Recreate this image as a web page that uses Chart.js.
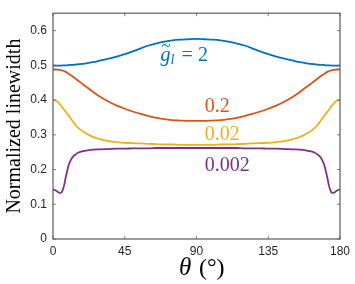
<!DOCTYPE html>
<html>
<head>
<meta charset="utf-8">
<script src="https://cdn.jsdelivr.net/npm/chart.js@4"></script>
<style>body{margin:0;background:#fff}</style>
</head>
<body>
<canvas id="lwChart" width="355" height="284"></canvas>
<script>
// angle theta in degrees
var theta = [0,2,4,5,6,7,8,9,10,12,14,16,18,20,25,30,35,40,45,50,55,60,65,70,75,80,85,90,95,100,105,110,115,120,125,130,135,140,145,150,155,160,162,164,166,168,170,171,172,173,174,175,176,178,180];

// normalized linewidth for each g_l
var lw2 = [0.499,0.499,0.499,0.499,0.500,0.500,0.500,0.500,0.501,0.501,0.502,0.503,0.504,0.505,0.509,0.514,0.519,0.525,0.532,0.540,0.549,0.557,0.563,0.568,0.572,0.574,0.575,0.576,0.575,0.574,0.572,0.568,0.563,0.557,0.549,0.540,0.532,0.525,0.519,0.514,0.509,0.505,0.504,0.503,0.502,0.501,0.501,0.500,0.500,0.500,0.500,0.499,0.499,0.499,0.499];
var lw02 = [0.488,0.488,0.487,0.486,0.485,0.483,0.481,0.478,0.475,0.469,0.462,0.455,0.448,0.441,0.424,0.408,0.395,0.384,0.375,0.367,0.360,0.354,0.349,0.345,0.342,0.341,0.340,0.340,0.340,0.341,0.342,0.345,0.349,0.354,0.360,0.367,0.375,0.384,0.395,0.408,0.424,0.441,0.448,0.455,0.462,0.469,0.475,0.478,0.481,0.483,0.485,0.486,0.487,0.488,0.488];
var lw002 = [0.400,0.398,0.390,0.384,0.378,0.372,0.366,0.360,0.354,0.341,0.329,0.319,0.312,0.306,0.294,0.287,0.282,0.279,0.277,0.276,0.275,0.274,0.273,0.272,0.272,0.271,0.271,0.271,0.271,0.271,0.272,0.272,0.273,0.274,0.275,0.276,0.277,0.279,0.282,0.287,0.294,0.306,0.312,0.319,0.329,0.341,0.354,0.360,0.366,0.372,0.378,0.384,0.390,0.398,0.400];
var lw0002 = [0.143,0.139,0.133,0.132,0.140,0.155,0.178,0.198,0.215,0.234,0.243,0.249,0.252,0.254,0.257,0.258,0.259,0.260,0.260,0.261,0.261,0.261,0.262,0.262,0.262,0.262,0.262,0.262,0.262,0.262,0.262,0.262,0.262,0.261,0.261,0.261,0.260,0.260,0.259,0.258,0.257,0.254,0.252,0.249,0.243,0.234,0.215,0.198,0.178,0.155,0.140,0.132,0.133,0.139,0.143];

var xTicks = [0, 45, 90, 135, 180];
var yTicks = [0, 0.1, 0.2, 0.3, 0.4, 0.5, 0.6];

function pts(ys) {
  return theta.map(function (t, i) { return { x: t, y: ys[i] }; });
}

function series(ys, color) {
  return {
    data: pts(ys),
    borderColor: color,
    borderWidth: 1.8,
    pointRadius: 0,
    fill: false,
    cubicInterpolationMode: "monotone",
  };
}

// box, inward ticks, x title and curve labels
var matlabLook = {
  id: "matlabLook",
  afterDatasetsDraw: function (chart) {
    var ctx = chart.ctx;
    var a = chart.chartArea;
    var xs = chart.scales.x, ys = chart.scales.y;
    ctx.save();
    ctx.strokeStyle = "#5a5a5a";
    ctx.lineWidth = 1.2;
    ctx.strokeRect(a.left, a.top, a.right - a.left, a.bottom - a.top);
    ctx.lineWidth = 0.8;
    ctx.beginPath();
    xTicks.forEach(function (v) {
      var px = xs.getPixelForValue(v);
      ctx.moveTo(px, a.bottom); ctx.lineTo(px, a.bottom - 3);
      ctx.moveTo(px, a.top); ctx.lineTo(px, a.top + 3);
    });
    yTicks.forEach(function (v) {
      var py = ys.getPixelForValue(v);
      ctx.moveTo(a.left, py); ctx.lineTo(a.left + 3, py);
      ctx.moveTo(a.right, py); ctx.lineTo(a.right - 3, py);
    });
    ctx.stroke();

    ctx.textBaseline = "alphabetic";
    ctx.textAlign = "left";

    // x axis title: theta (deg)
    ctx.fillStyle = "#000";
    ctx.font = "italic 25px 'Liberation Serif'";
    ctx.fillText("θ", 179, 275);
    ctx.font = "24px 'Liberation Serif'";
    ctx.fillText("(°)", 199, 275);

    // g~_l = 2
    var gx = xs.getPixelForValue(67.5), gy = ys.getPixelForValue(0.512);
    ctx.fillStyle = "#0072BD";
    ctx.font = "italic 20px 'Liberation Serif'";
    ctx.fillText("g", gx, gy);
    ctx.font = "17px 'Liberation Serif'";
    ctx.fillText("~", gx + 1, gy - 10);
    ctx.font = "italic 14px 'Liberation Serif'";
    ctx.fillText("l", gx + 10, gy + 3);
    ctx.font = "20px 'Liberation Serif'";
    ctx.fillText("= 2", gx + 21, gy);

    ctx.font = "20px 'Liberation Serif'";
    ctx.fillStyle = "#D95319";
    ctx.fillText("0.2", xs.getPixelForValue(95.2), ys.getPixelForValue(0.367));
    ctx.fillStyle = "#EDB120";
    ctx.fillText("0.02", xs.getPixelForValue(95.2), ys.getPixelForValue(0.285));
    ctx.fillStyle = "#7E2F8E";
    ctx.fillText("0.002", xs.getPixelForValue(95.2), ys.getPixelForValue(0.195));
    ctx.restore();
  },
};

var ctx = document.getElementById("lwChart").getContext("2d");
var lwChart = new Chart(ctx, {
  type: "line",
  data: {
    datasets: [
      series(lw2, "#0072BD"),
      series(lw02, "#D95319"),
      series(lw002, "#EDB120"),
      series(lw0002, "#7E2F8E"),
    ],
  },
  options: {
    responsive: false,
    animation: false,
    layout: { padding: { top: 2, right: 11, left: 0, bottom: 0 } },
    plugins: { legend: { display: false }, tooltip: { enabled: false } },
    scales: {
      x: {
        type: "linear",
        min: 0,
        max: 180,
        grid: { display: false, drawTicks: false },
        border: { display: false },
        ticks: {
          stepSize: 45,
          padding: 5,
          color: "#262626",
          font: { family: "'Liberation Sans'", size: 12 },
          maxRotation: 0,
        },
        afterFit: function (s) { s.height = 45; },
      },
      y: {
        min: 0,
        max: 0.65,
        grid: { display: false, drawTicks: false },
        border: { display: false },
        ticks: {
          stepSize: 0.1,
          includeBounds: false,
          padding: 6,
          color: "#262626",
          font: { family: "'Liberation Sans'", size: 12 },
          callback: function (v) { return v === 0 ? "0" : v.toFixed(1); },
        },
        title: {
          display: true,
          text: "Normalized linewidth",
          color: "#000",
          font: { family: "'Liberation Serif'", size: 20 },
          padding: { top: 3, bottom: 0 },
        },
        afterFit: function (s) { s.width = 53; },
      },
    },
  },
  plugins: [matlabLook],
});
</script>
</body>
</html>
